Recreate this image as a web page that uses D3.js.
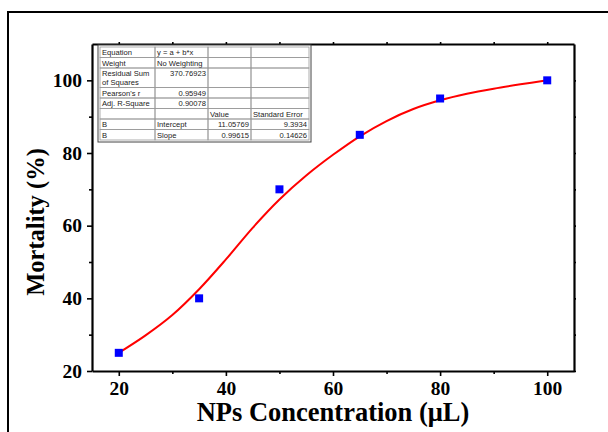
<!DOCTYPE html>
<html>
<head>
<meta charset="utf-8">
<script src="https://cdn.jsdelivr.net/npm/d3@7"></script>
<style>
  body { margin: 0; background: #fff; }
  svg { display: block; }
</style>
</head>
<body>
<div id="chart"></div>
<script>
// measured points
let concentration = [20, 35, 50, 65, 80, 100]
let mortality = [25, 40, 70, 85, 95, 100]

// fitted curve
let fitX = [20, 25, 30, 35, 40, 45, 50, 55, 60, 65, 70, 75, 80, 85, 90, 95, 100]
let fitY = [25, 29.8, 35.4, 42.5, 50.7, 59.4, 67.2, 73.8, 79.5, 84.6, 88.8, 92.1, 94.5, 96.3, 97.7, 98.9, 100]

let xTicks = [20, 40, 60, 80, 100]
let yTicks = [20, 40, 60, 80, 100]

// fit report table rows
let tableRows = [
  ['Equation', 'y = a + b*x', '', ''],
  ['Weight', 'No Weighting', '', ''],
  ['Residual Sum\nof Squares', '370.76923', '', ''],
  ["Pearson's r", '0.95949', '', ''],
  ['Adj. R-Square', '0.90078', '', ''],
  ['', '', 'Value', 'Standard Error'],
  ['B', 'Intercept', '11.05769', '9.3934'],
  ['B', 'Slope', '0.99615', '0.14626']
]

let width = 608
let height = 432
let margin = { top: 44, left: 92, right: 34, bottom: 61 }

let svg = d3.select('#chart')
  .append('svg')
  .attr('width', width)
  .attr('height', height)

// outer frame
svg.append('rect')
  .attr('x', 8).attr('y', 12)
  .attr('width', 640).attr('height', 460)
  .attr('fill', 'none')
  .attr('stroke', '#000')
  .attr('stroke-width', 2)

let x = d3.scaleLinear().domain([15, 105]).range([margin.left, width - margin.right])
let y = d3.scaleLinear().domain([20, 110]).range([height - margin.bottom, margin.top])

let fontBold = 'Times New Roman, Liberation Serif, serif'

// bottom axis
let xAxis = svg.append('g')
  .attr('transform', `translate(0,${y(20)})`)
  .call(d3.axisBottom(x).tickValues(xTicks).tickSize(5).tickSizeOuter(0).tickPadding(5))
xAxis.selectAll('.tick text')
  .attr('font-family', fontBold).attr('font-weight', 'bold').attr('font-size', 19.5).attr('fill', '#000')
svg.append('g')
  .attr('transform', `translate(0,${y(20)})`)
  .call(d3.axisBottom(x).tickValues([30, 50, 70, 90]).tickSize(3).tickFormat('').tickSizeOuter(0))
  .call(g => g.select('.domain').remove())

// left axis
let yAxis = svg.append('g')
  .attr('transform', `translate(${x(15)},0)`)
  .call(d3.axisLeft(y).tickValues(yTicks).tickSize(5).tickSizeOuter(0).tickPadding(5))
yAxis.selectAll('.tick text')
  .attr('font-family', fontBold).attr('font-weight', 'bold').attr('font-size', 19.5).attr('fill', '#000')
svg.append('g')
  .attr('transform', `translate(${x(15)},0)`)
  .call(d3.axisLeft(y).tickValues([30, 50, 70, 90]).tickSize(3).tickFormat('').tickSizeOuter(0))
  .call(g => g.select('.domain').remove())

// top and right axes, ticks only
svg.append('g')
  .attr('transform', `translate(0,${y(110)})`)
  .call(d3.axisTop(x).tickValues([20, 30, 40, 50, 60, 70, 80, 90, 100]).tickSize(2).tickFormat('').tickSizeOuter(0))
svg.append('g')
  .attr('transform', `translate(${x(105)},0)`)
  .call(d3.axisRight(y).tickValues([20, 30, 40, 50, 60, 70, 80, 90, 100]).tickSize(2).tickFormat('').tickSizeOuter(0))

svg.selectAll('.domain').attr('stroke-width', 2.2).attr('stroke', '#000')
svg.selectAll('.tick line').attr('stroke-width', 1.6).attr('stroke', '#000')

// fit curve
let fit = fitX.map((d, i) => [d, fitY[i]])
svg.append('path')
  .datum(fit)
  .attr('fill', 'none')
  .attr('stroke', '#ff0000')
  .attr('stroke-width', 2)
  .attr('d', d3.line().x(d => x(d[0])).y(d => y(d[1])).curve(d3.curveCatmullRom))

// data squares
let points = concentration.map((d, i) => ({ x: d, y: mortality[i] }))
let sq = 8
svg.selectAll('.point')
  .data(points)
  .enter()
  .append('rect')
  .attr('class', 'point')
  .attr('x', d => x(d.x) - sq / 2)
  .attr('y', d => y(d.y) - sq / 2)
  .attr('width', sq)
  .attr('height', sq)
  .attr('fill', '#0000ff')

// axis titles
svg.append('text')
  .attr('x', (x(15) + x(105)) / 2)
  .attr('y', 421)
  .attr('text-anchor', 'middle')
  .attr('font-family', fontBold)
  .attr('font-weight', 'bold')
  .attr('font-size', 26.5)
  .text('NPs Concentration (μL)')

svg.append('text')
  .attr('transform', `translate(44,222) rotate(-90)`)
  .attr('text-anchor', 'middle')
  .attr('font-family', fontBold)
  .attr('font-weight', 'bold')
  .attr('font-size', 24.5)
  .text('Mortality (%)')

// fit table
let colX = [100, 155, 208, 251, 309]
let rowH = [10.5, 10.5, 19.5, 10.5, 10.5, 10.5, 10.5, 10.5]
let tableTop = 47
let table = svg.append('g').attr('font-family', 'Liberation Sans, Arial, sans-serif').attr('font-size', 7.6).attr('fill', '#222')

table.append('rect')
  .attr('x', colX[0] - 2).attr('y', tableTop - 2)
  .attr('width', colX[4] - colX[0] + 4)
  .attr('height', d3.sum(rowH) + 4)
  .attr('fill', '#fff')
  .attr('stroke', '#444')
  .attr('stroke-width', 1)

let ry = tableTop
tableRows.forEach((row, r) => {
  row.forEach((cell, c) => {
    table.append('rect')
      .attr('x', colX[c]).attr('y', ry)
      .attr('width', colX[c + 1] - colX[c]).attr('height', rowH[r])
      .attr('fill', 'none')
      .attr('stroke', '#999')
      .attr('stroke-width', 0.8)
    if (!cell) return
    let numeric = /^[0-9.]+$/.test(cell)
    let lines = cell.split('\n')
    lines.forEach((line, li) => {
      table.append('text')
        .attr('x', numeric ? colX[c + 1] - 2 : colX[c] + 2)
        .attr('y', ry + 8 + li * 9)
        .attr('text-anchor', numeric ? 'end' : 'start')
        .text(line)
    })
  })
  ry += rowH[r]
})
</script>
</body>
</html>
